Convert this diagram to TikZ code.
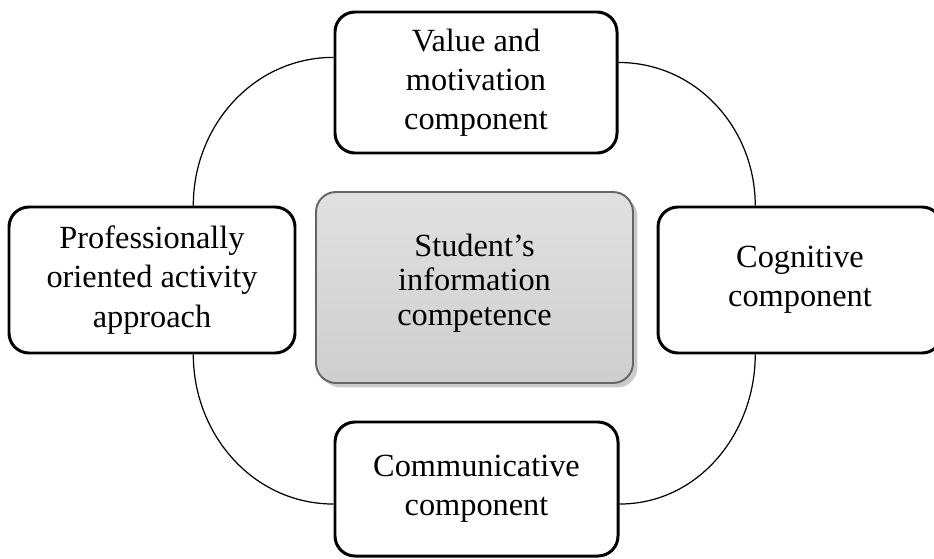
\documentclass[tikz,border=0pt]{standalone}
\usepackage{fontspec}
\setmainfont{Liberation Serif}
\usetikzlibrary{shadows}

\begin{document}
\begin{tikzpicture}[line width=1.7pt,
    part/.style={draw=black,rounded corners=0.4cm,fill=white,align=center,inner sep=0pt,
        font=\fontsize{18.4}{22.3}\selectfont},
    core/.style={draw=black!60,line width=1.1pt,rounded corners=0.4cm,align=center,inner sep=0pt,
        top color=black!12,bottom color=black!19,
        drop shadow={shadow xshift=2.5pt,shadow yshift=-2.5pt,fill=black!35,opacity=0.6},
        font=\fontsize{18.4}{19.5}\selectfont},
    loop/.style={line width=0.7pt}]
    \useasboundingbox (0,0) rectangle (18.68,11.16);

    % the four components around the centre
    \node [part,minimum width=5.64cm,minimum height=2.82cm] (value) at (9.52,9.51) {Value and\\motivation\\component};
    \node [part,minimum width=5.72cm,minimum height=2.92cm] (prof) at (3.04,5.56) {Professionally\\oriented activity\\approach};
    \node [part,minimum width=5.68cm,minimum height=2.92cm] (cogn) at (16.0,5.56) {Cognitive\\component};
    \node [part,minimum width=5.66cm,minimum height=2.68cm] (comm) at (9.53,1.38) {Communicative\\component};

    % centre block, text sits a little above the middle
    \node [core,minimum width=6.34cm,minimum height=3.82cm] (info) at (9.49,5.41) {Student’s\\information\\competence\\[-10.5pt]};

    % arcs joining the components
    \draw [loop] (value.170) to [out=180,in=90] (prof.61);
    \draw [loop] (value.8) to [out=0,in=90] (cogn.121);
    \draw [loop] (prof.299) to [out=-90,in=180] (comm.186);
    \draw [loop] (cogn.239) to [out=-90,in=0] (comm.354);
\end{tikzpicture}
\end{document}
